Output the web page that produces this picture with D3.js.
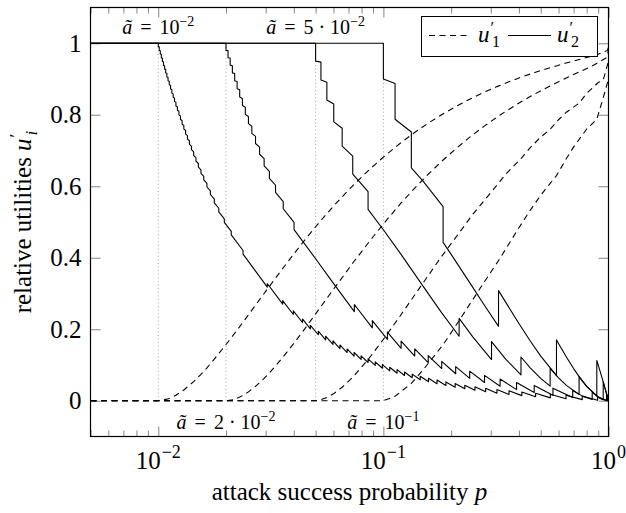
<!DOCTYPE html>
<html>
<head>
<meta charset="utf-8">
<script src="https://cdn.jsdelivr.net/npm/d3@7"></script>
<style>
body { margin: 0; background: #fff; }
svg { display: block; }
svg text { font-family: "Liberation Serif", "DejaVu Serif", serif; }
</style>
</head>
<body>
<svg id="chart" width="626" height="513"></svg>
<script>
var aTilde = [0.01, 0.02, 0.05, 0.1];
var aMantissa = ["", "2 \u00b7 ", "5 \u00b7 ", ""];
var aExponent = ["\u22122", "\u22122", "\u22122", "\u22121"];
var aSide = ["top", "bottom", "top", "bottom"];

var xMajorTicks = [0.01, 0.1, 1];
var xMajorExp = ["\u22122", "\u22121", "0"];
var xMinorTicks = [0.005, 0.006, 0.007, 0.008, 0.009, 0.02, 0.03, 0.04, 0.05, 0.06, 0.07, 0.08, 0.09,
                   0.2, 0.3, 0.4, 0.5, 0.6, 0.7, 0.8, 0.9];
var yTicks = [0, 0.2, 0.4, 0.6, 0.8, 1];

// u'_2 (solid), points [p, u]
var u2_a1 = [[0.005,1],[0.01,1],[0.01,0.99],
  [0.010102,0.9899],[0.010102,0.9799],[0.010206,0.9798],[0.010206,0.9698],[0.01032,0.969],[0.01032,0.959],
  [0.01043,0.9588],[0.01043,0.9488],[0.01055,0.9479],[0.01055,0.9379],[0.01067,0.9372],[0.01067,0.9272],
  [0.01079,0.9268],[0.01079,0.9168],[0.01092,0.9158],[0.01092,0.9058],[0.01105,0.905],[0.01105,0.895],
  [0.01119,0.8937],[0.01119,0.8837],[0.01134,0.8818],[0.01134,0.8718],[0.01149,0.8703],[0.01149,0.8603],
  [0.01165,0.8584],[0.01165,0.8484],[0.01181,0.8467],[0.01181,0.8367],[0.01198,0.8347],[0.01198,0.8247],
  [0.01216,0.8224],[0.01216,0.8124],[0.01235,0.8097],[0.01235,0.7997],[0.01255,0.7968],[0.01255,0.7868],
  [0.01276,0.7837],[0.01276,0.7737],[0.01299,0.7698],[0.01299,0.7598],[0.01323,0.7559],[0.01323,0.7459],
  [0.01348,0.7418],[0.01348,0.7318],[0.01375,0.7273],[0.01375,0.7173],[0.01404,0.7123],[0.01404,0.7023],
  [0.01436,0.6964],[0.01436,0.6864],[0.0147,0.6803],[0.0147,0.6703],[0.01507,0.6636],[0.01507,0.6536],
  [0.01548,0.646],[0.01548,0.636],[0.01593,0.6277],[0.01593,0.6177],[0.01645,0.6079],[0.01645,0.5979],
  [0.01704,0.5869],[0.01704,0.5769],[0.01774,0.5637],[0.01774,0.5537],[0.01857,0.5385],[0.01857,0.5285],
  [0.01965,0.5089],[0.01965,0.4989],[0.0211,0.4739],[0.0211,0.4639],[0.0238,0.4202],[0.0238,0.4102],
  [0.027,0.3632],
  [0.0305,0.3179],[0.0305,0.3279],[0.0357,0.2701],[0.0357,0.2801],[0.0398,0.2413],[0.0398,0.2513],
  [0.0437,0.2188],[0.0437,0.2288],[0.0474,0.201],[0.0474,0.211],[0.0514,0.1846],[0.0514,0.1946],
  [0.0554,0.1705],[0.0554,0.1805],[0.0597,0.1575],[0.0597,0.1675],[0.0641,0.146],[0.0641,0.156],
  [0.069,0.1349],[0.069,0.1449],[0.0741,0.125],[0.0741,0.135],[0.0796,0.1156],[0.0796,0.1256],
  [0.0855,0.107],[0.0855,0.117],[0.092,0.0987],[0.092,0.1087],[0.099,0.091],[0.099,0.101],
  [0.1067,0.0837],[0.1067,0.0937],[0.115,0.077],[0.115,0.087],[0.1241,0.0706],[0.1241,0.0806],
  [0.1343,0.0645],[0.1343,0.0745],[0.1458,0.0586],[0.1458,0.0686],[0.1586,0.0531],[0.1586,0.0631],
  [0.1731,0.0478],[0.1731,0.0578],[0.1896,0.0427],[0.1896,0.0527],[0.2084,0.038],[0.2084,0.048],
  [0.23,0.0335],[0.23,0.0435],[0.2551,0.0292],[0.2551,0.0392],[0.2846,0.0251],[0.2846,0.0351],
  [0.3195,0.0213],[0.3195,0.0313],[0.3614,0.0177],[0.3614,0.0277],[0.4121,0.0143],[0.4121,0.0243],
  [0.4744,0.0111],[0.4744,0.0211],[0.5516,0.0081],[0.5516,0.0181],[0.6475,0.0054],[0.6475,0.0154],
  [0.7644,0.0031],[0.7644,0.0131],[0.8943,0.0012],[0.8943,0.0112],[0.9899,0.0001],[0.9899,0.0101],[1,0]];

var u2_a2 = [[0.005,1],[0.02,1],[0.02,0.98],
  [0.020417,0.9796],[0.020417,0.9596],[0.02086,0.9588],[0.02086,0.9388],[0.02134,0.9372],[0.02134,0.9172],
  [0.02185,0.9153],[0.02185,0.8953],[0.0224,0.8929],[0.0224,0.8729],[0.023,0.8696],[0.023,0.8496],
  [0.02365,0.8457],[0.02365,0.8257],[0.02436,0.821],[0.02436,0.801],[0.02515,0.7952],[0.02515,0.7752],
  [0.02604,0.768],[0.02604,0.748],[0.02704,0.7396],[0.02704,0.7196],[0.02819,0.7095],[0.02819,0.6895],
  [0.02953,0.6773],[0.02953,0.6573],[0.03116,0.6418],[0.03116,0.6218],[0.03318,0.6028],[0.03318,0.5828],
  [0.0359,0.5571],[0.0359,0.5371],[0.0401,0.4988],[0.0401,0.4788],
  [0.05,0.3972],[0.06,0.3283],
  [0.0743,0.2492],[0.0743,0.2692],[0.0893,0.204],[0.0893,0.224],[0.1042,0.1719],[0.1042,0.1919],
  [0.1199,0.1468],[0.1199,0.1668],[0.1378,0.1251],[0.1378,0.1451],[0.1582,0.1064],[0.1582,0.1264],
  [0.1816,0.0901],[0.1816,0.1101],[0.2095,0.0755],[0.2095,0.0955],[0.2418,0.0627],[0.2418,0.0827],
  [0.2814,0.0511],[0.2814,0.0711],[0.33,0.0406],[0.33,0.0606],[0.3905,0.0312],[0.3905,0.0512],
  [0.4676,0.0228],[0.4676,0.0428],[0.5665,0.0153],[0.5665,0.0353],[0.6933,0.0088],[0.6933,0.0288],
  [0.77,0.0122],[0.8463,0.0036],[0.8463,0.0236],[0.92,0.0064],[0.9796,0.0004],[0.9796,0.0204],[1,0]];

var u2_a5 = [[0.005,1],[0.05,1],[0.05,0.95],
  [0.0528,0.9472],[0.0528,0.8972],[0.0561,0.891],[0.0561,0.841],[0.0602,0.83],[0.0602,0.78],
  [0.0656,0.7623],[0.0656,0.7123],[0.0731,0.6842],[0.0731,0.6342],[0.0855,0.5851],[0.0855,0.5351],
  [0.1,0.4783],[0.12,0.4087],[0.15,0.3206],[0.18,0.2493],[0.217,0.1804],[0.217,0.2304],
  [0.25,0.178],[0.3023,0.1153],[0.3023,0.1653],[0.35,0.116],[0.4085,0.0724],[0.4085,0.1224],
  [0.45,0.0915],[0.5,0.0625],[0.5505,0.0408],[0.5505,0.0908],[0.6,0.064],[0.65,0.0429],[0.7401,0.0176],
  [0.7401,0.0675],[0.8,0.04],[0.9,0.01],[0.9472,0.0028],[0.9472,0.0528],[0.975,0.025],[1,0]];

var u2_a10 = [[0.005,1],[0.1,1],[0.1,0.9],
  [0.1127,0.8873],[0.1127,0.7873],[0.1331,0.7516],[0.1331,0.6516],[0.15,0.6141],[0.1842,0.543],
  [0.1842,0.4429],[0.2,0.4096],[0.25,0.3164],[0.28,0.2687],[0.3247,0.208],[0.3247,0.308],
  [0.4,0.216],[0.45,0.1664],[0.5,0.125],[0.5874,0.0702],[0.5874,0.1702],[0.65,0.1225],[0.7,0.09],
  [0.75,0.0625],[0.8,0.04],[0.8873,0.0127],[0.8873,0.1127],[0.92,0.08],[0.95,0.05],[1,0]];

// u'_1 (dashed)
var u1_a1 = [[0.005,0],[0.01,0],[0.01055,0.0021],[0.01119,0.0063],[0.01198,0.0153],[0.01299,0.0302],
  [0.01436,0.0536],[0.01548,0.074],[0.01645,0.0921],[0.01774,0.1163],[0.01965,0.1511],[0.0211,0.1761],
  [0.0238,0.2198],[0.027,0.2668],[0.0305,0.3121],[0.0357,0.3699],[0.0398,0.4087],[0.0437,0.4412],
  [0.0474,0.469],[0.0514,0.4954],[0.0554,0.5195],[0.0597,0.5425],[0.0641,0.564],[0.069,0.5851],
  [0.0741,0.605],[0.0796,0.6244],[0.0855,0.643],[0.092,0.6613],[0.099,0.679],[0.1067,0.6963],
  [0.115,0.713],[0.1241,0.7294],[0.1343,0.7455],[0.1458,0.7614],[0.1586,0.7769],[0.1731,0.7922],
  [0.1896,0.8073],[0.2084,0.822],[0.23,0.8365],[0.2551,0.8508],[0.2846,0.8649],[0.3195,0.8787],
  [0.3614,0.8923],[0.4121,0.9057],[0.4744,0.9189],[0.5516,0.9319],[0.6475,0.9446],[0.7644,0.9569],
  [0.8943,0.9688],[0.9899,0.9799],[1,0.99]];

var u1_a2 = [[0.005,0],[0.02,0],[0.020417,0.0004],[0.02134,0.0028],[0.0224,0.0071],[0.02365,0.0143],
  [0.02515,0.0248],[0.02704,0.0404],[0.02819,0.0505],[0.02953,0.0627],[0.03116,0.0782],[0.03318,0.0972],
  [0.0359,0.1229],[0.0401,0.1612],[0.045,0.2033],[0.05,0.2428],[0.06,0.3117],[0.0743,0.3908],[0.0893,0.456],
  [0.1042,0.5081],[0.1199,0.5532],[0.1378,0.5949],[0.1582,0.6336],[0.1816,0.6699],[0.2095,0.7045],
  [0.2418,0.7373],[0.2814,0.7689],[0.33,0.7994],[0.3905,0.8288],[0.4676,0.8572],[0.5665,0.8847],
  [0.6933,0.9112],[0.8463,0.9364],[0.9796,0.9596],[1,0.98]];

var u1_a5 = [[0.005,0],[0.05,0],[0.0528,0.0028],[0.0561,0.0091],[0.0602,0.02],[0.0656,0.0377],
  [0.0731,0.0658],[0.0855,0.1149],[0.1,0.1717],[0.12,0.2413],[0.15,0.3294],[0.18,0.4007],[0.217,0.4696],
  [0.25,0.522],[0.3023,0.5847],[0.35,0.634],[0.4085,0.6776],[0.45,0.7085],[0.5,0.7375],[0.5505,0.7592],
  [0.6,0.786],[0.65,0.8071],[0.7401,0.8324],[0.8,0.86],[0.9,0.89],[0.9472,0.8972],[1,0.95]];

var u1_a10 = [[0.005,0],[0.1,0],[0.1127,0.0127],[0.1331,0.0484],[0.15,0.0859],[0.1842,0.157],
  [0.2,0.1904],[0.25,0.2836],[0.28,0.3313],[0.3247,0.392],[0.4,0.484],[0.45,0.5336],[0.5,0.575],
  [0.5874,0.6298],[0.65,0.6775],[0.7,0.71],[0.8,0.76],[0.8873,0.7873],[0.95,0.85],[1,0.9]];

var solidSeries = [u2_a1, u2_a2, u2_a5, u2_a10];
var dashedSeries = [u1_a1, u1_a2, u1_a5, u1_a10];

var svg = d3.select("#chart");
var X0 = 90.5, X1 = 608.5, Y0 = 7.5, Y1 = 436.5;
var serif = "Liberation Serif";

var x = d3.scaleLog().domain([0.005, 1]).range([X0, X1]);
var y = d3.scaleLinear().domain([-0.1, 1.1]).range([Y1, Y0]);

svg.append("clipPath").attr("id", "clip")
	.append("rect").attr("x", X0).attr("y", Y0).attr("width", X1 - X0).attr("height", Y1 - Y0);

// ticks, all pointing inward
function tickGroup (axis, tx, ty) {
	var g = svg.append("g").attr("transform", "translate(" + tx + "," + ty + ")").call(axis);
	g.select(".domain").remove();
	g.selectAll(".tick line").attr("stroke", "#777").attr("stroke-width", 0.9);
	g.selectAll(".tick text").remove();
	return g;
}
tickGroup(d3.axisBottom(x).tickValues(xMinorTicks).tickSize(-6).tickSizeOuter(0), 0, Y1);
tickGroup(d3.axisTop(x).tickValues(xMinorTicks).tickSize(-6).tickSizeOuter(0), 0, Y0);
tickGroup(d3.axisBottom(x).tickValues(xMajorTicks).tickSize(-10).tickSizeOuter(0), 0, Y1);
tickGroup(d3.axisTop(x).tickValues(xMajorTicks).tickSize(-10).tickSizeOuter(0), 0, Y0);
tickGroup(d3.axisRight(y).tickValues(yTicks).tickSize(-10).tickSizeOuter(0), X1, 0);

var yAxis = svg.append("g").attr("transform", "translate(" + X0 + ",0)")
	.call(d3.axisLeft(y).tickValues(yTicks).tickSize(-10).tickSizeOuter(0).tickPadding(9).tickFormat(d3.format("")));
yAxis.attr("font-family", serif).attr("font-size", 25);
yAxis.select(".domain").remove();
yAxis.selectAll(".tick line").attr("stroke", "#777").attr("stroke-width", 0.9);
yAxis.selectAll(".tick text").attr("fill", "#000");

// x tick labels 10^k
xMajorTicks.forEach(function (v, i) {
	var t = svg.append("text").attr("x", x(v)).attr("y", 469).attr("text-anchor", "middle")
		.attr("font-family", serif).attr("font-size", 25);
	t.append("tspan").text("10");
	t.append("tspan").attr("dy", -11).attr("dx", 1).attr("font-size", 18).text(xMajorExp[i]);
});

var plot = svg.append("g").attr("clip-path", "url(#clip)");

plot.selectAll(".guide").data(aTilde).enter().append("line")
	.attr("class", "guide")
	.attr("x1", function (d) { return x(d); }).attr("x2", function (d) { return x(d); })
	.attr("y1", y(0)).attr("y2", y(1))
	.attr("stroke", "#999").attr("stroke-width", 0.9).attr("stroke-dasharray", "1,2.6");

var line = d3.line().x(function (d) { return x(d[0]); }).y(function (d) { return y(d[1]); });

plot.selectAll(".u1").data(dashedSeries).enter().append("path")
	.attr("class", "u1").attr("d", line)
	.attr("fill", "none").attr("stroke", "#000").attr("stroke-width", 1.1).attr("stroke-dasharray", "6,4.5");

plot.selectAll(".u2").data(solidSeries).enter().append("path")
	.attr("class", "u2").attr("d", line)
	.attr("fill", "none").attr("stroke", "#000").attr("stroke-width", 1.1).attr("stroke-linejoin", "round");

svg.append("rect").attr("x", X0).attr("y", Y0).attr("width", X1 - X0).attr("height", Y1 - Y0)
	.attr("fill", "none").attr("stroke", "#000").attr("stroke-width", 1.2);

// a~ labels
aTilde.forEach(function (a, i) {
	var ty = aSide[i] == "top" ? 34 : 429;
	var t = svg.append("text").attr("x", x(a)).attr("y", ty).attr("text-anchor", "middle")
		.attr("font-family", serif).attr("font-size", 20);
	t.append("tspan").attr("font-style", "italic").text("\u00e3");
	t.append("tspan").attr("dx", 8).text("=");
	t.append("tspan").attr("dx", 8).text(aMantissa[i] + "10");
	t.append("tspan").attr("dy", -8).attr("font-size", 14).text(aExponent[i]);
});

function uPrime (t, sub, size) {
	t.append("tspan").attr("font-style", "italic").text("u");
	t.append("tspan").attr("dy", -0.4 * size).attr("dx", 1).attr("font-size", size * 0.7).text("\u2032");
	t.append("tspan").attr("dy", 0.62 * size).attr("dx", -2).attr("font-size", size * 0.7)
		.attr("font-style", sub == "i" ? "italic" : "normal").text(sub);
}

// legend
var lg = svg.append("g");
lg.append("rect").attr("x", 421.5).attr("y", 16.5).attr("width", 176).attr("height", 40)
	.attr("fill", "#fff").attr("stroke", "#000").attr("stroke-width", 1);
lg.append("line").attr("x1", 429).attr("x2", 471).attr("y1", 35.5).attr("y2", 35.5)
	.attr("stroke", "#000").attr("stroke-width", 1.1).attr("stroke-dasharray", "6,4.5");
uPrime(lg.append("text").attr("x", 478).attr("y", 42).attr("font-family", serif).attr("font-size", 23), "1", 23);
lg.append("line").attr("x1", 508).attr("x2", 551).attr("y1", 35.5).attr("y2", 35.5)
	.attr("stroke", "#000").attr("stroke-width", 1.1);
uPrime(lg.append("text").attr("x", 557).attr("y", 42).attr("font-family", serif).attr("font-size", 23), "2", 23);

// axis titles
var xt = svg.append("text").attr("x", (X0 + X1) / 2).attr("y", 500).attr("text-anchor", "middle")
	.attr("font-family", serif).attr("font-size", 25);
xt.append("tspan").text("attack success probability ");
xt.append("tspan").attr("font-style", "italic").text("p");

var yt = svg.append("text").attr("transform", "translate(31," + ((Y0 + Y1) / 2) + ") rotate(-90)")
	.attr("text-anchor", "middle").attr("font-family", serif).attr("font-size", 25);
yt.append("tspan").text("relative utilities ");
uPrime(yt, "i", 25);
</script>
</body>
</html>
